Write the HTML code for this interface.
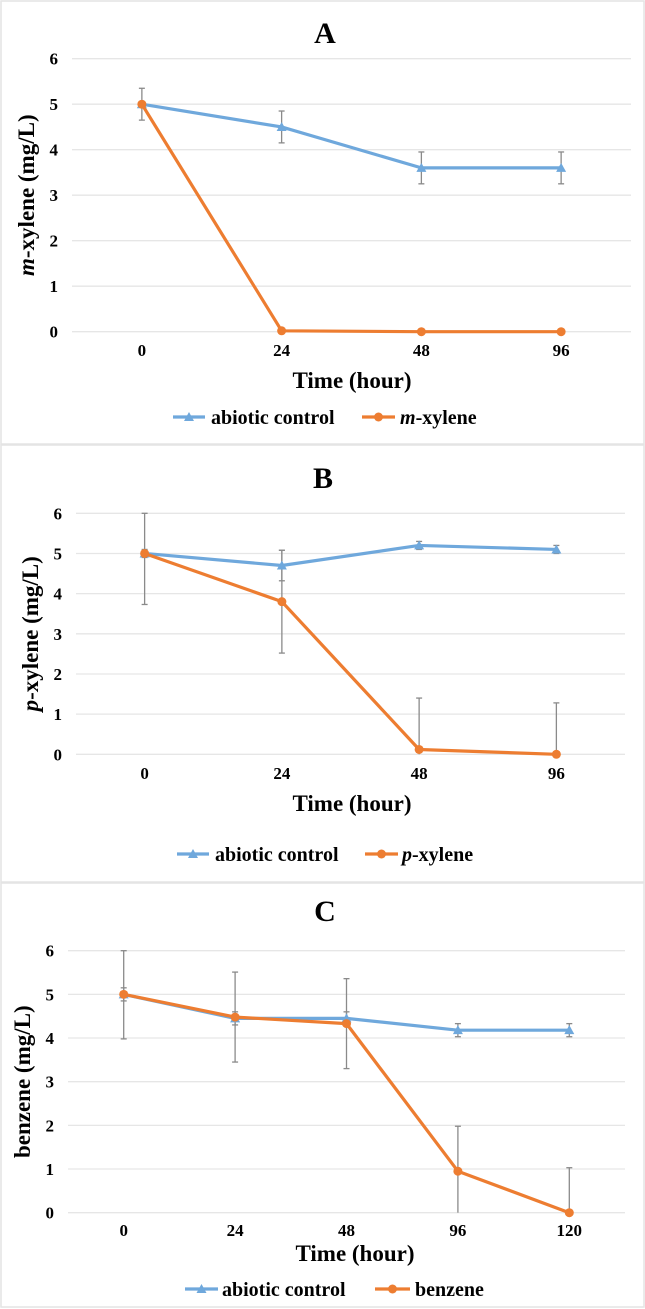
<!DOCTYPE html>
<html><head><meta charset="utf-8">
<style>
html,body{margin:0;padding:0;background:#fff;}
svg{display:block;font-family:"Liberation Serif",serif;font-weight:bold;}
</style></head>
<body>
<svg id="fig" width="645" height="1309" viewBox="0 0 645 1309" xmlns="http://www.w3.org/2000/svg"></svg>
<script>
// Panel A data
const catsA = ["0","24","48","96"];
const ctrlA = [5, 4.5, 3.6, 3.6];
const ctrlErrA = [0.35, 0.35, 0.35, 0.35];
const seriesA = [5, 0.02, 0, 0];
const seriesErrA = [0.05, 0, 0, 0];
// Panel B data
const catsB = ["0","24","48","96"];
const ctrlB = [5, 4.7, 5.2, 5.1];
const ctrlErrB = [0.1, 0.38, 0.1, 0.1];
const seriesB = [5, 3.8, 0.12, 0];
const seriesErrB = [1.27, 1.28, 1.28, 1.28];
// Panel C data
const catsC = ["0","24","48","96","120"];
const ctrlC = [5, 4.45, 4.45, 4.18, 4.18];
const ctrlErrC = [0.15, 0.15, 0.15, 0.15, 0.15];
const seriesC = [5, 4.48, 4.33, 0.95, 0];
const seriesErrC = [1.02, 1.03, 1.03, 1.03, 1.03];
const yTicks = [0,1,2,3,4,5,6];

const NS = "http://www.w3.org/2000/svg";
const svg = document.getElementById('fig');
function mk(tag, attrs, parent){
  const e = document.createElementNS(NS, tag);
  for (const k in attrs) e.setAttribute(k, attrs[k]);
  (parent||svg).appendChild(e);
  return e;
}
const BLUE = "#6fa8dc", ORANGE = "#ed7d31";

function panel(cfg){
  const g = mk('g', {});
  
  
  const border = mk('rect', {x:1, y:cfg.top, width:643, height:cfg.bottom-cfg.top, fill:'none', stroke:'#e4e4e4', 'stroke-width':1.5}, g);
  
  
  const n = cfg.cats.length;
  const step = (cfg.right - cfg.left)/n;
  const xs = i => cfg.left + step*(i+0.5);
  const ys = v => cfg.y0 + (cfg.y6 - cfg.y0)*v/6;
  const t = mk('text', {x:cfg.titleX, y:cfg.titleY, 'font-size':30, 'text-anchor':'middle', fill:'#000'}, g);
  t.textContent = cfg.title;
  
  
  yTicks.forEach(v=>{
    const l = mk('line', {x1:cfg.left, x2:cfg.right, y1:ys(v), y2:ys(v), stroke:'#e6e6e6', 'stroke-width':1.3}, g);
    
    
    const tx = mk('text', {x:cfg.left-14, y:ys(v)+6, 'font-size':17, 'text-anchor':'end'}, g);
    tx.textContent = v;
    
    
  });
  cfg.cats.forEach((c,i)=>{
    const tx = mk('text', {x:xs(i), y:cfg.xLabY, 'font-size':17, 'text-anchor':'middle'}, g);
    tx.textContent = c;
    
    
  });
  const xt = mk('text', {x:cfg.xTitleX, y:cfg.xTitleY, 'font-size':23, 'text-anchor':'middle'}, g);
  xt.textContent = 'Time (hour)';
  
  
  const cy = (cfg.y0+cfg.y6)/2;
  const yt = mk('text', {x:0, y:0, 'font-size':23, 'text-anchor':'middle', transform:`translate(${cfg.yTitleX},${cy}) rotate(-90)`}, g);
  
  
  if (cfg.italic){ const s = mk('tspan', {'font-style':'italic'}, yt); s.textContent = cfg.italic; }
  const r = mk('tspan', {}, yt); r.textContent = cfg.yTitle;

  function errs(vals, errv, name){
    vals.forEach((v,i)=>{
      const e = errv[i]; if (!e) return;
      const hi = Math.min(6, v+e), lo = Math.max(0, v-e);
      const eg = mk('g', {stroke:'#8a8a8a', 'stroke-width':1.3}, g);
      
      
      mk('line', {x1:xs(i), x2:xs(i), y1:ys(hi), y2:ys(lo)}, eg);
      mk('line', {x1:xs(i)-3, x2:xs(i)+3, y1:ys(hi), y2:ys(hi)}, eg);
      if (v-e >= 0) mk('line', {x1:xs(i)-3, x2:xs(i)+3, y1:ys(lo), y2:ys(lo)}, eg);
    });
  }
  errs(cfg.ctrlErr && cfg.ctrl ? cfg.ctrl : [], cfg.ctrlErr, 'error-bar-control');
  errs(cfg.ser, cfg.serErr, 'error-bar-sample');
  function series(vals, color, marker, name){
    const p = mk('polyline', {points: vals.map((v,i)=>xs(i)+','+ys(v)).join(' '), fill:'none', stroke:color, 'stroke-width':3.2, 'stroke-linejoin':'round'}, g);
    
    
    vals.forEach((v,i)=>{
      let m;
      if (marker==='tri') m = mk('path', {d:`M${xs(i)-5},${ys(v)+4} L${xs(i)+5},${ys(v)+4} L${xs(i)},${ys(v)-5} Z`, fill:color}, g);
      else m = mk('circle', {cx:xs(i), cy:ys(v), r:4.5, fill:color}, g);
      
      
    });
  }
  series(cfg.ctrl, BLUE, 'tri', 'abiotic-control');
  series(cfg.ser, ORANGE, 'dot', 'sample');
  // legend
  const L = cfg.leg, ly = cfg.legY;
  const lg = mk('g', {}, g);
  
  
  mk('line', {x1:L[0], x2:L[1], y1:ly, y2:ly, stroke:BLUE, 'stroke-width':3.2}, lg);
  mk('path', {d:`M${(L[0]+L[1])/2-5},${ly+4} L${(L[0]+L[1])/2+5},${ly+4} L${(L[0]+L[1])/2},${ly-5} Z`, fill:BLUE}, lg);
  const a = mk('text', {x:L[2], y:ly+7, 'font-size':20}, lg); a.textContent = 'abiotic control';
  
  
  mk('line', {x1:L[3], x2:L[4], y1:ly, y2:ly, stroke:ORANGE, 'stroke-width':3.2}, lg);
  mk('circle', {cx:(L[3]+L[4])/2, cy:ly, r:4.5, fill:ORANGE}, lg);
  const b = mk('text', {x:L[5], y:ly+7, 'font-size':20}, lg);
  
  
  if (cfg.italic){ const s = mk('tspan', {'font-style':'italic'}, b); s.textContent = cfg.italic; }
  const s2 = mk('tspan', {}, b); s2.textContent = cfg.legName;
}

panel({name:'panel-a', title:'A', top:1, bottom:444, left:72, right:631, y6:58.7, y0:331.7,
  cats:catsA, ctrl:ctrlA, ctrlErr:ctrlErrA, ser:seriesA, serErr:seriesErrA,
  titleX:325, titleY:43, xLabY:356, xTitleX:352, xTitleY:388, yTitleX:34,
  italic:'m', yTitle:'-xylene (mg/L)', legName:'-xylene', legY:417, leg:[173,205,211,362,395,400]});
panel({name:'panel-b', title:'B', top:445, bottom:882, left:76, right:625, y6:513.3, y0:754.3,
  cats:catsB, ctrl:ctrlB, ctrlErr:ctrlErrB, ser:seriesB, serErr:seriesErrB,
  titleX:323, titleY:488, xLabY:779, xTitleX:352, xTitleY:811, yTitleX:38,
  italic:'p', yTitle:'-xylene (mg/L)', legName:'-xylene', legY:854, leg:[177,209,215,365,398,402]});
panel({name:'panel-c', title:'C', top:883, bottom:1307, left:68, right:625, y6:950.7, y0:1212.7,
  cats:catsC, ctrl:ctrlC, ctrlErr:ctrlErrC, ser:seriesC, serErr:seriesErrC,
  titleX:325, titleY:921, xLabY:1236, xTitleX:355, xTitleY:1261, yTitleX:30,
  italic:'', yTitle:'benzene (mg/L)', legName:'benzene', legY:1289, leg:[185,218,222,375,410,415]});
</script>
</body></html>
